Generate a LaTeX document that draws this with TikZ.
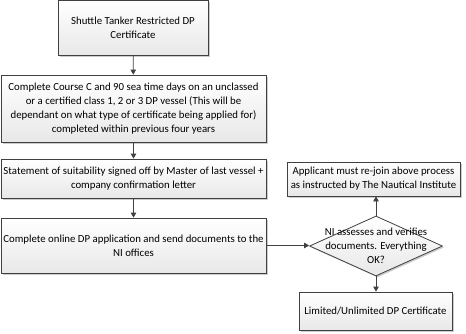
\documentclass[tikz,border=0pt]{standalone}
\usepackage{fontspec}
\setmainfont{Carlito}
\usetikzlibrary{shapes.geometric,arrows.meta,shadows}
\begin{document}
\begin{tikzpicture}[x=1pt,y=-1pt,
  box/.style={draw=black!75, line width=0.8pt, top color=white, bottom color=black!9,
    drop shadow={shadow xshift=1.5pt,shadow yshift=-1.5pt,fill=black!40,opacity=0.5},
    align=center, font=\fontsize{10.8}{13.8}\selectfont, inner sep=0pt},
  dia/.style={diamond, draw=black!75, line width=0.8pt, top color=white, bottom color=black!9,
    drop shadow={shadow xshift=1.5pt,shadow yshift=-1.5pt,fill=black!40,opacity=0.5},
    inner sep=0pt, minimum width=133pt, minimum height=60pt},
  lbl/.style={align=center, font=\fontsize{10.8}{13.8}\selectfont, inner sep=0pt},
  arr/.style={-{Triangle[length=5pt,width=5.5pt]}, draw=black!75, line width=0.8pt}]
\useasboundingbox (0,0) rectangle (466,333);
\node[box, minimum width=150pt, minimum height=55pt] (b1) at (133,28)
  {Shuttle Tanker Restricted DP\\Certificate};
\node[box, minimum width=265pt, minimum height=67pt] (b2) at (133.5,108.5)
  {Complete Course C and 90 sea time days on an unclassed\\or a certified class 1, 2 or 3 DP vessel (This will be\\dependant on what type of certificate being applied for)\\completed within previous four years};
\node[box, minimum width=265pt, minimum height=39pt] (b3) at (133.5,178.5)
  {Statement of suitability signed off by Master of last vessel +\\company confirmation letter};
\node[box, minimum width=265pt, minimum height=55pt] (b4) at (133.5,245.5)
  {Complete online DP application and send documents to the\\NI offices};
\node[box, minimum width=173pt, minimum height=34pt] (rb) at (373.5,179)
  {Applicant must re-join above process\\as instructed by The Nautical Institute};
\node[dia] (d) at (376,246) {};
\node[lbl] (dt) at (d) {NI assesses and verifies\\documents. Everything\\OK?};
\node[box, minimum width=153pt, minimum height=38pt] (bb) at (375.5,311)
  {Limited/Unlimited DP Certificate};
\draw[arr] (b1) -- (b2);
\draw[arr] (b2) -- (b3);
\draw[arr] (b3) -- (b4);
\draw[arr] (b4.east) -- (b4.east -| d.west);
\draw[arr] (d.north) -- (d.north |- rb.south);
\draw[arr] (d.south) -- (d.south |- bb.north);
\end{tikzpicture}
\end{document}
